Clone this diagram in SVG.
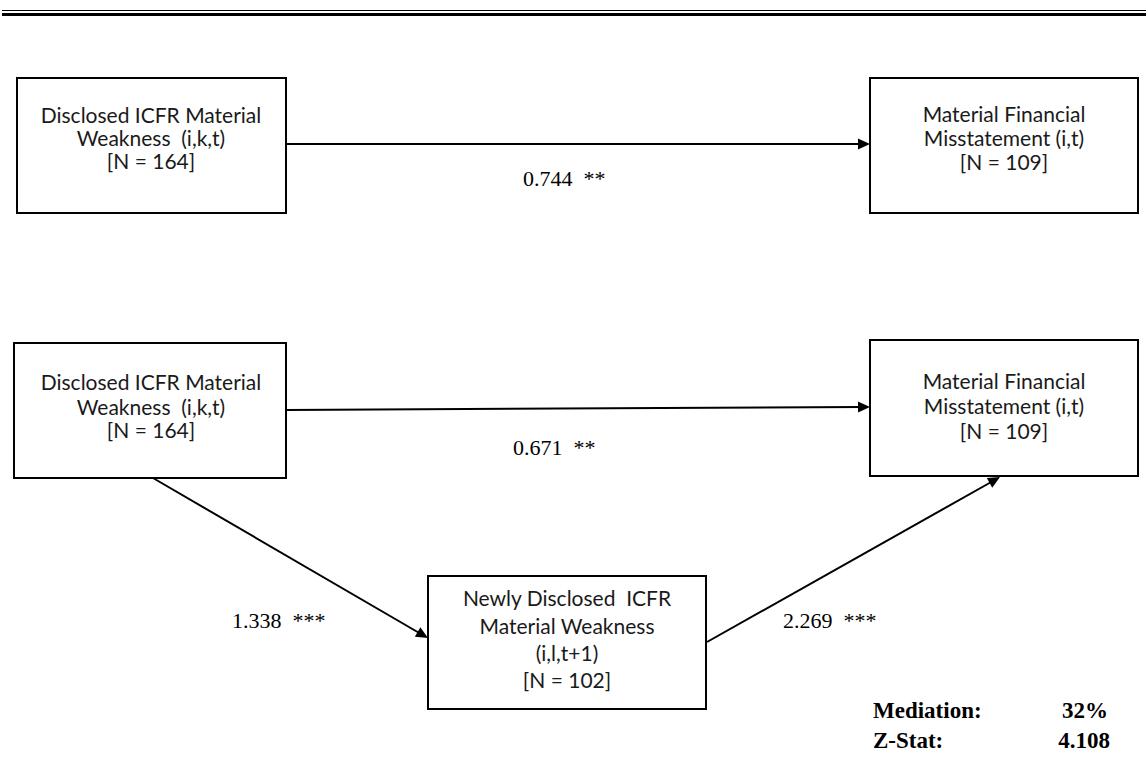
<svg xmlns="http://www.w3.org/2000/svg" width="1146" height="778" viewBox="0 0 1146 778">
<style>
.box{fill:#fff;stroke:#000;stroke-width:2}
.bt{font-family:Lato,"Liberation Sans",sans-serif;font-size:21px;fill:#1a1a1a;text-anchor:middle;white-space:pre}
.lab{font-family:"Liberation Serif",serif;font-size:22px;fill:#000;white-space:pre}
.st{font-family:"Liberation Serif",serif;font-size:23px;font-weight:bold;fill:#000}
.ln{stroke:#000;stroke-width:2;fill:none}
</style>
<defs>
<path id="ah" d="M0,0L-12,-5.5L-12,5.5z" fill="#000"/>
</defs>
<rect width="1146" height="778" fill="#fff"/>
<g id="rule">
<line x1="2" y1="10.5" x2="1146" y2="10.5" stroke="#000" stroke-width="1"/>
<line x1="2" y1="14.5" x2="1146" y2="14.5" stroke="#000" stroke-width="3"/>
</g>
<g id="connectors">
<line class="ln" x1="286" y1="144" x2="862" y2="144"/>
<use href="#ah" transform="translate(870,144)"/>
<line class="ln" x1="286" y1="410" x2="862" y2="407"/>
<use href="#ah" transform="translate(870,407) rotate(-0.3)"/>
<line class="ln" x1="153" y1="478" x2="421" y2="634"/>
<use href="#ah" transform="translate(428,638) rotate(30.2)"/>
<line class="ln" x1="707" y1="642" x2="993" y2="481"/>
<use href="#ah" transform="translate(1000,477) rotate(-29.4)"/>
</g>
<g id="node-mw1">
<rect class="box" x="17" y="78" width="269" height="135"/>
<text class="bt" x="151" y="123">Disclosed ICFR Material</text>
<text class="bt" x="151" y="146">Weakness  (i,k,t)</text>
<text class="bt" x="151" y="169">[N = 164]</text>
</g>
<g id="node-mfm1">
<rect class="box" x="870" y="78" width="268" height="135"/>
<text class="bt" x="1004" y="122">Material Financial</text>
<text class="bt" x="1004" y="146">Misstatement (i,t)</text>
<text class="bt" x="1004" y="170">[N = 109]</text>
</g>
<g id="node-mw2">
<rect class="box" x="14" y="343" width="272" height="135"/>
<text class="bt" x="151" y="390">Disclosed ICFR Material</text>
<text class="bt" x="151" y="415">Weakness  (i,k,t)</text>
<text class="bt" x="151" y="438">[N = 164]</text>
</g>
<g id="node-mfm2">
<rect class="box" x="870" y="340" width="268" height="136"/>
<text class="bt" x="1004" y="389">Material Financial</text>
<text class="bt" x="1004" y="414">Misstatement (i,t)</text>
<text class="bt" x="1004" y="439">[N = 109]</text>
</g>
<g id="node-new">
<rect class="box" x="428" y="576" width="278" height="133"/>
<text class="bt" x="567" y="606">Newly Disclosed  ICFR</text>
<text class="bt" x="567" y="634">Material Weakness</text>
<text class="bt" x="567" y="661">(i,l,t+1)</text>
<text class="bt" x="567" y="688">[N = 102]</text>
</g>
<g id="labels">
<text class="lab" x="523" y="186">0.744  **</text>
<text class="lab" x="513" y="455">0.671  **</text>
<text class="lab" x="232" y="628">1.338  ***</text>
<text class="lab" x="783" y="628">2.269  ***</text>
</g>
<g id="stats">
<text class="st" x="873" y="718">Mediation:</text>
<text class="st" x="1108" y="718" text-anchor="end">32%</text>
<text class="st" x="873" y="748">Z-Stat:</text>
<text class="st" x="1110" y="748" text-anchor="end">4.108</text>
</g>
</svg>
